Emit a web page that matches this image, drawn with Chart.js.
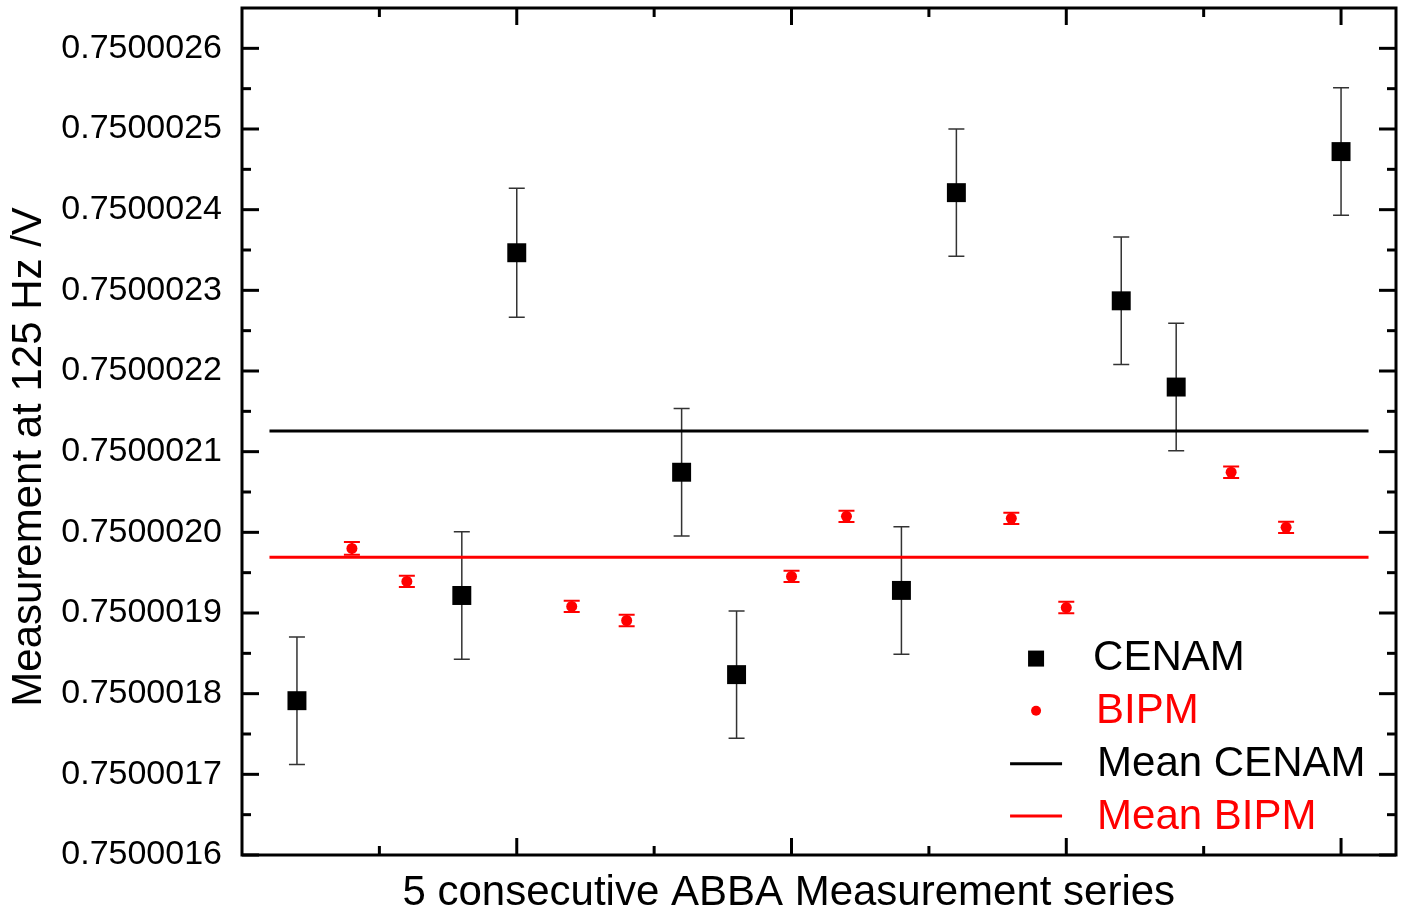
<!DOCTYPE html>
<html>
<head>
<meta charset="utf-8">
<title>ABBA measurement series</title>
<script src="https://cdn.jsdelivr.net/npm/chart.js@4.4.1/dist/chart.umd.min.js"></script>
<style>
  html, body { margin: 0; padding: 0; background: #fff; }
  #wrap { width: 1410px; height: 915px; position: relative; }
</style>
</head>
<body>
<div id="wrap"><canvas id="abba"></canvas></div>
<script>
// measurement index along the series (ABBA order)
const cenamX = [1, 4, 5, 8, 9, 12, 13, 16, 17, 20];
const cenamY = [0.7500017913, 0.7500019217, 0.7500023466, 0.7500020745, 0.7500018236,
                0.7500019280, 0.7500024211, 0.7500022870, 0.7500021801, 0.7500024720];
const cenamErr = [0.79e-7, 0.79e-7, 0.80e-7, 0.79e-7, 0.79e-7,
                  0.79e-7, 0.79e-7, 0.79e-7, 0.79e-7, 0.79e-7];

const bipmX = [2, 3, 6, 7, 10, 11, 14, 15, 18, 19];
const bipmY = [0.7500019801, 0.7500019391, 0.7500019081, 0.7500018907, 0.7500019453,
               0.7500020199, 0.7500020174, 0.7500019068, 0.7500020745, 0.7500020062];
const bipmErr = [0.08e-7, 0.07e-7, 0.07e-7, 0.07e-7, 0.07e-7,
                 0.07e-7, 0.07e-7, 0.07e-7, 0.07e-7, 0.07e-7];

const meanCenam = 0.7500021255;
const meanBipm = 0.7500019690;
const meanSpan = [0.5, 20.5];

const yTicks = [0.7500016, 0.7500017, 0.7500018, 0.7500019, 0.7500020, 0.7500021,
                0.7500022, 0.7500023, 0.7500024, 0.7500025, 0.7500026];
const xMajorTicks = [5, 10, 15, 20];
const xMinorTicks = [2.5, 7.5, 12.5, 17.5];

const FONT = 'Arial, "Liberation Sans", sans-serif';
const RED = '#ff0000';

const pts = (xs, ys) => xs.map((x, i) => ({ x: x, y: ys[i] }));

// error bars, drawn under the markers
const errorBars = {
  id: 'errorBars',
  beforeDatasetsDraw(chart) {
    const { ctx, scales: { x, y } } = chart;
    ctx.save();
    chart.data.datasets.forEach(ds => {
      if (!ds.err) return;
      ctx.strokeStyle = ds.errColor;
      ctx.lineWidth = ds.errWidth;
      ds.data.forEach((p, i) => {
        const px = x.getPixelForValue(p.x);
        const top = y.getPixelForValue(p.y + ds.err[i]);
        const bot = y.getPixelForValue(p.y - ds.err[i]);
        ctx.beginPath();
        ctx.moveTo(px, top); ctx.lineTo(px, bot);
        ctx.moveTo(px - 8, top); ctx.lineTo(px + 8, top);
        ctx.moveTo(px - 8, bot); ctx.lineTo(px + 8, bot);
        ctx.stroke();
      });
    });
    ctx.restore();
  }
};

// closed frame with inward ticks on all four sides, axis titles and the legend box
const frame = {
  id: 'frame',
  afterDraw(chart) {
    const { ctx, chartArea: a, scales: { x, y } } = chart;
    ctx.save();
    ctx.strokeStyle = '#000';
    ctx.lineWidth = 3;
    ctx.strokeRect(a.left, a.top, a.right - a.left, a.bottom - a.top);

    const tick = (x1, y1, x2, y2) => { ctx.beginPath(); ctx.moveTo(x1, y1); ctx.lineTo(x2, y2); ctx.stroke(); };
    yTicks.forEach((v, i) => {
      const py = y.getPixelForValue(v);
      tick(a.left, py, a.left + 17, py);
      tick(a.right, py, a.right - 17, py);
      if (i < yTicks.length - 1) {
        const my = y.getPixelForValue((v + yTicks[i + 1]) / 2);
        tick(a.left, my, a.left + 9, my);
        tick(a.right, my, a.right - 9, my);
      }
    });
    xMajorTicks.forEach(v => {
      const px = x.getPixelForValue(v);
      tick(px, a.bottom, px, a.bottom - 17);
      tick(px, a.top, px, a.top + 17);
    });
    xMinorTicks.forEach(v => {
      const px = x.getPixelForValue(v);
      tick(px, a.bottom, px, a.bottom - 9);
      tick(px, a.top, px, a.top + 9);
    });

    // axis titles
    ctx.fillStyle = '#000';
    ctx.font = '42px ' + FONT;
    ctx.textAlign = 'center';
    ctx.textBaseline = 'middle';
    ctx.fillText('5 consecutive ABBA Measurement series', x.getPixelForValue(9.95), a.bottom + 38);
    ctx.save();
    ctx.translate(29, y.getPixelForValue(0.7500020935));
    ctx.rotate(-Math.PI / 2);
    ctx.fillText('Measurement at 125 Hz /V', 0, 0);
    ctx.restore();

    // legend
    ctx.textAlign = 'left';
    const lx = x.getPixelForValue(14.45);
    const rows = [0.7500018435, 0.7500017789, 0.7500017130, 0.7500016484].map(v => y.getPixelForValue(v));
    chart.data.datasets.forEach((ds, i) => {
      const ry = rows[i];
      ctx.fillStyle = ds.borderColor;
      ctx.strokeStyle = ds.borderColor;
      if (ds.type === 'line') {
        ctx.lineWidth = 3;
        tick(lx - 26, ry, lx + 26, ry);
        ctx.fillText(ds.label, lx + 61, ry + 1);
      } else if (ds.pointStyle === 'rect') {
        ctx.fillRect(lx - 8, ry - 8, 16, 16);
        ctx.fillText(ds.label, lx + 57, ry);
      } else {
        ctx.beginPath();
        ctx.arc(lx, ry, 5, 0, Math.PI * 2);
        ctx.fill();
        ctx.fillText(ds.label, lx + 60, ry + 1);
      }
    });
    ctx.restore();
  }
};

new Chart(document.getElementById('abba'), {
  type: 'scatter',
  data: {
    datasets: [
      {
        label: 'CENAM',
        data: pts(cenamX, cenamY),
        err: cenamErr, errColor: '#333333', errWidth: 1.5,
        pointStyle: 'rect', pointRadius: 13.4,
        backgroundColor: '#000', borderColor: '#000', borderWidth: 0
      },
      {
        label: 'BIPM',
        data: pts(bipmX, bipmY),
        err: bipmErr, errColor: RED, errWidth: 2,
        pointStyle: 'circle', pointRadius: 5.5,
        backgroundColor: RED, borderColor: RED, borderWidth: 0
      },
      {
        type: 'line',
        label: 'Mean CENAM',
        data: meanSpan.map(v => ({ x: v, y: meanCenam })),
        borderColor: '#000', borderWidth: 3, pointRadius: 0
      },
      {
        type: 'line',
        label: 'Mean BIPM',
        data: meanSpan.map(v => ({ x: v, y: meanBipm })),
        borderColor: RED, borderWidth: 3, pointRadius: 0
      }
    ]
  },
  options: {
    responsive: true,
    maintainAspectRatio: false,
    animation: false,
    layout: { autoPadding: false, padding: { top: 8, right: 14, left: 0, bottom: 0 } },
    plugins: { legend: { display: false }, tooltip: { enabled: false } },
    scales: {
      x: {
        type: 'linear', min: 0, max: 21,
        grid: { display: false },
        border: { display: false },
        ticks: { display: false },
        afterFit(scale) { scale.height = 60; }
      },
      y: {
        type: 'linear', min: 0.75000160, max: 0.75000265,
        grid: { display: false, drawTicks: false },
        border: { display: false },
        afterBuildTicks(scale) { scale.ticks = yTicks.map(v => ({ value: v })); },
        afterFit(scale) {
          scale.width = 242;
          scale.paddingTop = 0;
          scale.paddingBottom = 0;
        },
        ticks: {
          padding: 20,
          color: '#000',
          font: { family: FONT, size: 34 },
          callback: v => v.toFixed(7)
        }
      }
    }
  },
  plugins: [errorBars, frame]
});
</script>
</body>
</html>
